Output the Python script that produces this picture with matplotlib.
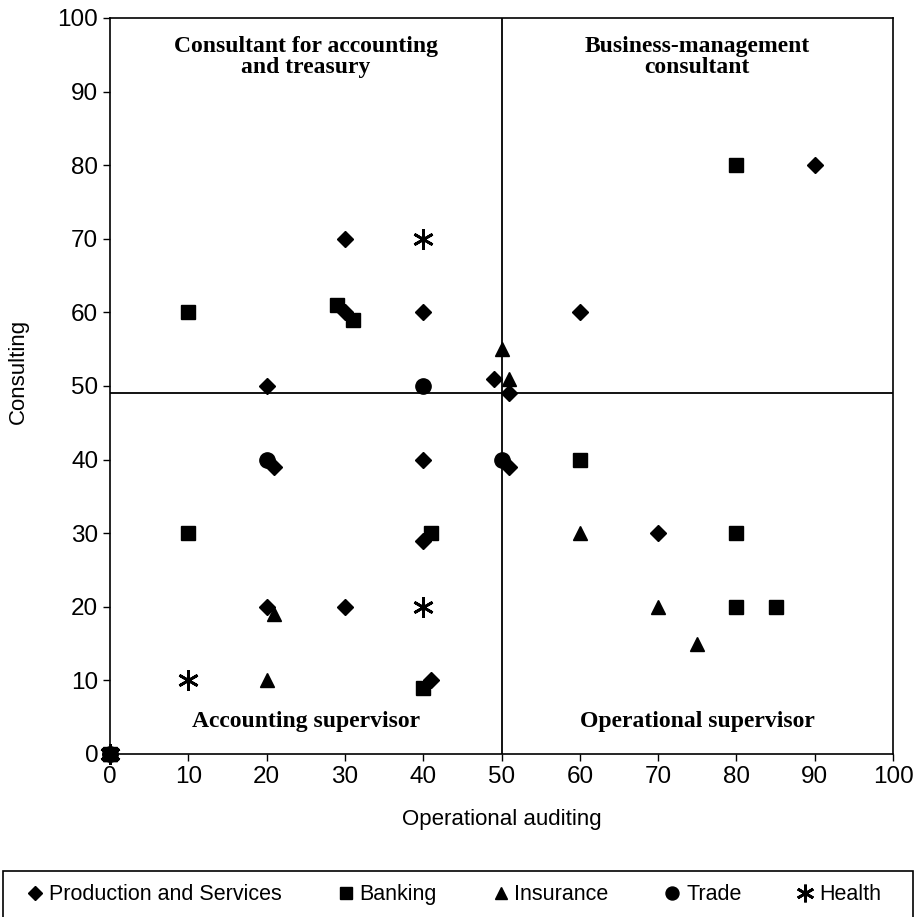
import matplotlib
matplotlib.use("Agg")
import matplotlib.pyplot as plt
from matplotlib.patches import Rectangle

plt.rcParams['font.family'] = ['Liberation Sans', 'DejaVu Sans']

# Production and Services
prod_x = [30, 30, 40, 20, 49, 51, 60, 90, 21, 40, 51, 40, 70, 20, 30, 41, 0]
prod_y = [70, 60, 60, 50, 51, 49, 60, 80, 39, 40, 39, 29, 30, 20, 20, 10, 0]
# Banking
bank_x = [10, 29, 31, 80, 60, 10, 41, 80, 80, 85, 40, 0]
bank_y = [60, 61, 59, 80, 40, 30, 30, 30, 20, 20, 9, 0]
# Insurance
ins_x = [50, 51, 60, 70, 75, 21, 20, 0]
ins_y = [55, 51, 30, 20, 15, 19, 10, 0]
# Trade
trade_x = [40, 20, 50, 0]
trade_y = [50, 40, 40, 0]
# Health
health_x = [40, 40, 10, 0]
health_y = [70, 20, 10, 0]

split_x = 50
split_y = 49

quad_labels = ["Consultant for accounting\nand treasury", "Business-management\nconsultant",
               "Accounting supervisor", "Operational supervisor"]

fig = plt.figure(figsize=(9.2, 9.17), dpi=100)
ax = fig.add_axes([0.1196, 0.1778, 0.8511, 0.8026])

ax.plot(prod_x, prod_y, 'D', color='black', ms=8, label='Production and Services', clip_on=False)
ax.plot(bank_x, bank_y, 's', color='black', ms=10, label='Banking', clip_on=False)
ax.plot(ins_x, ins_y, '^', color='black', ms=10, label='Insurance', clip_on=False)
ax.plot(trade_x, trade_y, 'o', color='black', ms=11, label='Trade', clip_on=False)
ax.plot(health_x, health_y, color='black', marker=(6, 2, 0), ls='none', ms=15, mew=2,
        label='Health', clip_on=False)

ax.axvline(split_x, color='black', lw=1.3)
ax.axhline(split_y, color='black', lw=1.3)

ax.set_xlim(0, 100)
ax.set_ylim(0, 100)
ax.set_xticks(range(0, 101, 10))
ax.set_yticks(range(0, 101, 10))
ax.tick_params(direction='out', length=5, labelsize=17.5, width=1)
for s in ax.spines.values():
    s.set_linewidth(1.2)

ax.set_xlabel('Operational auditing', fontsize=16, labelpad=15)
ax.set_ylabel('Consulting', fontsize=16)
ax.yaxis.set_label_coords(-0.104, 0.52)

serif = dict(family='Liberation Serif', fontweight='bold', fontsize=17, ha='center')
ax.text(25, 97.5, quad_labels[0], va='top', linespacing=1.0, **serif)
ax.text(75, 97.5, quad_labels[1], va='top', linespacing=1.0, **serif)
ax.text(25, 4.4, quad_labels[2], va='center', **serif)
ax.text(75, 4.4, quad_labels[3], va='center', **serif)

# legend frame drawn across the figure bottom
fig.patches.append(Rectangle((0.003, -0.01), 0.989, 0.06, transform=fig.transFigure,
                             fill=False, edgecolor='black', lw=1.2))
leg = fig.legend(loc='center', bbox_to_anchor=(0.494, 0.024), ncol=5, fontsize=15.5,
                 frameon=False, handlelength=0.7, handletextpad=0.3, columnspacing=2.6,
                 borderaxespad=0, markerscale=0.85)

fig.savefig('out.png', dpi=100)
